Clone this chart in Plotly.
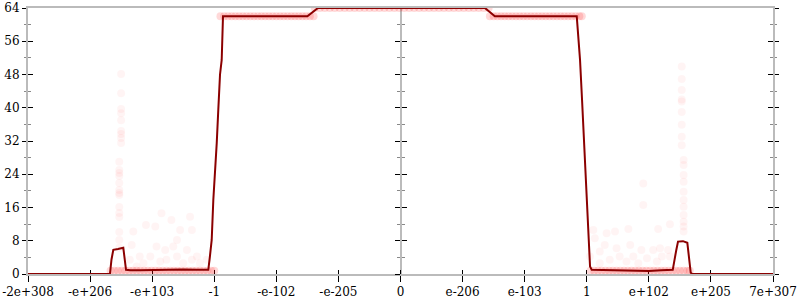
import plotly.graph_objects as go

# x positions are in ordinal tick units (0..12), one unit per labelled tick
tick_labels = ["-2e+308", "-e+206", "-e+103", "-1", "-e-102", "-e-205", "0",
               "e-206", "e-103", "1", "e+102", "e+205", "7e+307"]
y_ticks = [0, 8, 16, 24, 32, 40, 48, 56, 64]

# averaged bits-of-error line
line_x = [0.0, 1.32, 1.345, 1.374, 1.45, 1.535, 1.579, 1.65, 1.8, 2.0, 2.2, 2.35, 2.5,
          2.7, 2.904, 2.93, 2.959, 2.985, 3.012, 3.04, 3.065, 3.093, 3.12, 3.141,
          4.5, 4.67, 7.36, 7.52, 8.839, 8.86, 8.892, 8.924, 8.956, 8.98, 9.0, 9.026,
          9.053, 9.08, 9.3, 9.6, 9.9, 10.0, 10.2, 10.385, 10.44, 10.47, 10.55, 10.62,
          10.675, 10.7, 12.0]
line_y = [0.0, 0.0, 3.5, 5.8, 6.0, 6.3, 1.0, 0.9, 0.9, 1.0, 1.1, 1.2, 1.1,
          1.0, 1.0, 4.2, 8.2, 17.8, 23.4, 31.5, 39.5, 48.0, 51.5, 62.0,
          62.0, 64.0, 64.0, 62.0, 62.0, 58.0, 51.5, 42.0, 31.0, 24.0, 17.8, 8.2,
          1.8, 1.0, 0.9, 0.8, 0.8, 0.7, 0.9, 1.0, 5.6, 7.8, 7.9, 7.5,
          0.3, 0.0, 0.0]

# individual faint samples
pts_x = [1.47, 1.47, 1.47, 1.47, 1.47, 1.47, 1.47, 1.47, 1.47, 1.47, 1.47, 1.47, 1.47, 1.47,
         1.50, 1.50, 1.50, 1.50, 1.50, 1.50, 1.50, 1.50, 1.50,
         1.696, 1.67, 1.90, 2.05, 2.15, 2.31, 2.40, 2.45, 2.61, 2.64, 2.56, 2.21, 2.07,
         1.80, 1.97, 2.23, 2.40, 2.72, 2.77, 2.50, 1.86, 1.64, 2.88, 2.34, 2.13, 1.75, 2.64,
         10.53, 10.53, 10.53, 10.53, 10.53, 10.53, 10.53, 10.53, 10.53,
         10.56, 10.56, 10.56, 10.56, 10.56, 10.56, 10.56, 10.56, 10.56, 10.56, 10.56,
         9.106, 9.32, 9.455, 9.67, 10.15, 10.34, 9.91, 9.91, 9.13, 9.29, 9.48, 9.70,
         9.88, 10.07, 10.18, 10.31, 9.21, 9.05, 9.53, 9.75, 9.97, 10.21, 9.37, 9.64,
         9.83, 10.13, 9.21, 10.34]
pts_y = [27.0, 25.0, 24.3, 23.6, 21.9, 20.2, 19.5, 19.0, 16.1, 14.7, 13.7, 10.1, 8.2, 6.3,
         48.1, 43.5, 39.7, 38.7, 37.0, 34.4, 33.7, 32.7, 31.5,
         10.2, 7.0, 11.8, 11.4, 14.6, 13.0, 8.2, 10.6, 13.8, 10.6, 5.8, 5.8, 6.6,
         4.2, 4.2, 3.4, 4.2, 4.2, 2.6, 2.6, 2.6, 3.4, 3.4, 6.6, 3.0, 1.8, 3.4,
         49.9, 46.9, 44.3, 42.0, 41.5, 39.0, 35.9, 33.0, 31.0,
         27.4, 26.2, 23.8, 22.2, 19.8, 17.8, 16.2, 14.2, 12.6, 11.4, 10.2,
         10.6, 9.8, 10.2, 10.8, 10.8, 12.0, 21.8, 16.6, 8.6, 7.0, 6.2, 7.0,
         5.8, 5.8, 6.2, 5.8, 5.4, 4.2, 4.2, 4.2, 3.8, 4.2, 3.4, 3.0,
         2.6, 3.0, 2.6, 4.2]

# dense clusters of samples (many samples sharing one value)
band_low_left_x = [1.33, 1.39, 1.45, 1.51, 1.57, 1.63, 1.69, 1.75, 1.81, 1.87, 1.93, 1.99,
                   2.05, 2.11, 2.17, 2.23, 2.29, 2.35, 2.41, 2.47, 2.53, 2.59, 2.65, 2.71,
                   2.77, 2.83, 2.89, 2.95, 3.0]
band_low_right_x = [9.06, 9.12, 9.18, 9.24, 9.30, 9.36, 9.42, 9.48, 9.54, 9.60, 9.66, 9.72,
                    9.78, 9.84, 9.90, 9.96, 10.02, 10.08, 10.14, 10.20, 10.26, 10.32, 10.38,
                    10.44, 10.50, 10.56, 10.62, 10.66]
band_low_y = 0.8
band_62_left_x = [3.10, 3.16, 3.22, 3.28, 3.34, 3.40, 3.46, 3.52, 3.58, 3.64, 3.70, 3.76,
                  3.82, 3.88, 3.94, 4.00, 4.06, 4.12, 4.18, 4.24, 4.30, 4.36, 4.42, 4.48,
                  4.54, 4.60]
band_62_right_x = [7.44, 7.50, 7.56, 7.62, 7.68, 7.74, 7.80, 7.86, 7.92, 7.98, 8.04, 8.10,
                   8.16, 8.22, 8.28, 8.34, 8.40, 8.46, 8.52, 8.58, 8.64, 8.70, 8.76, 8.82,
                   8.88, 8.92]
band_62_y = 62
band_64_x = [4.62, 4.70, 4.78, 4.86, 4.94, 5.02, 5.10, 5.18, 5.26, 5.34, 5.42, 5.50, 5.58,
             5.66, 5.74, 5.82, 5.90, 5.98, 6.06, 6.14, 6.22, 6.30, 6.38, 6.46, 6.54, 6.62,
             6.70, 6.78, 6.86, 6.94, 7.02, 7.10, 7.18, 7.26, 7.34, 7.42]
band_64_y = 64

FONT = "DejaVu Serif"
GREY = "#bbbbbb"

fig = go.Figure()

band_x = band_low_left_x + band_low_right_x + band_62_left_x + band_62_right_x + band_64_x
band_y = ([band_low_y] * (len(band_low_left_x) + len(band_low_right_x))
          + [band_62_y] * (len(band_62_left_x) + len(band_62_right_x))
          + [band_64_y] * len(band_64_x))

fig.add_trace(go.Scatter(x=band_x, y=band_y, mode="markers",
                         marker=dict(size=8, color="rgba(255,0,0,0.15)", line=dict(width=0)),
                         hoverinfo="skip", showlegend=False))
fig.add_trace(go.Scatter(x=pts_x, y=pts_y, mode="markers",
                         marker=dict(size=8, color="rgba(255,0,0,0.045)",
                                     line=dict(width=0)),
                         hoverinfo="skip", showlegend=False))
fig.add_trace(go.Scatter(x=line_x, y=line_y, mode="lines",
                         line=dict(color="#8b0000", width=2),
                         hoverinfo="skip", showlegend=False))

# dummy traces to materialise the overlay axes (crossing ticks, centre axis)
for xa, ya in [("x2", "y2"), ("x", "y3"), ("x", "y4")]:
    fig.add_trace(go.Scatter(x=[None], y=[None], xaxis=xa, yaxis=ya,
                             hoverinfo="skip", showlegend=False))

tickfont = dict(family=FONT, size=12, color="black")
xcommon = dict(range=[0, 12], tickmode="array", tickvals=list(range(13)),
               showgrid=False, zeroline=False, fixedrange=True, automargin=False)
ycommon = dict(range=[0, 64], tickmode="array", tickvals=y_ticks,
               showgrid=False, zeroline=False, fixedrange=True, automargin=False)

fig.update_layout(
    width=800, height=300,
    margin=dict(l=28, r=27, t=8, b=26, autoexpand=False),
    paper_bgcolor="white", plot_bgcolor="white",
    xaxis=dict(**xcommon, ticktext=tick_labels, ticks="outside", ticklen=6,
               tickcolor="black", tickwidth=1, showline=True, linecolor=GREY,
               linewidth=2, mirror=True, tickfont=tickfont, layer="below traces"),
    xaxis2=dict(**xcommon, overlaying="x", anchor="y", side="bottom", ticks="inside",
                ticklen=4, tickcolor="black", tickwidth=1, showticklabels=False,
                showline=False, layer="below traces"),
    yaxis=dict(**ycommon, ticks="outside", ticklen=4, tickcolor="black", tickwidth=1,
               minor=dict(tickmode="linear", tick0=0, dtick=4, ticks="outside",
                          ticklen=2, tickcolor="#888888", tickwidth=1),
               showline=True, linecolor=GREY, linewidth=2, mirror="ticks",
               tickfont=tickfont, layer="below traces"),
    yaxis2=dict(**ycommon, overlaying="y", anchor="x2", ticks="inside", ticklen=5,
                tickcolor="black", tickwidth=1,
                minor=dict(tickmode="linear", tick0=0, dtick=4, ticks="inside",
                           ticklen=3, tickcolor="#888888", tickwidth=1),
                mirror="ticks", showline=False, showticklabels=False,
                layer="below traces"),
    yaxis3=dict(**ycommon, overlaying="y", anchor="free", position=0.5, side="left",
                ticks="outside", ticklen=5, tickcolor="black", tickwidth=1,
                minor=dict(tickmode="linear", tick0=0, dtick=4, ticks="outside",
                           ticklen=3, tickcolor="#888888", tickwidth=1),
                showline=True, linecolor=GREY, linewidth=2, showticklabels=False,
                layer="below traces"),
    yaxis4=dict(**ycommon, overlaying="y", anchor="free", position=0.5, side="left",
                ticks="inside", ticklen=5, tickcolor="black", tickwidth=1,
                minor=dict(tickmode="linear", tick0=0, dtick=4, ticks="inside",
                           ticklen=3, tickcolor="#888888", tickwidth=1),
                showline=False, showticklabels=False, layer="below traces"),
)

fig.write_html("out.html")
